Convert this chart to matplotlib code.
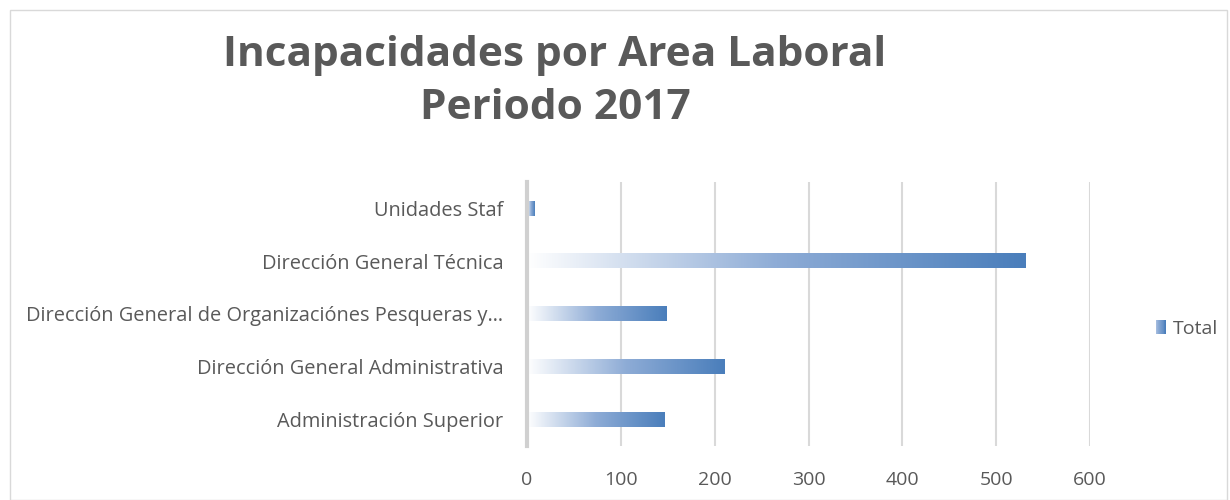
import numpy as np
import matplotlib
matplotlib.use("Agg")
import matplotlib.pyplot as plt
from matplotlib.colors import LinearSegmentedColormap
from matplotlib.patches import Rectangle, Patch
from matplotlib.legend_handler import HandlerBase

categories = ["Administración Superior",
              "Dirección General Administrativa",
              "Dirección General de Organizaciónes Pesqueras y…",
              "Dirección General Técnica",
              "Unidades Staf"]
values = [147, 211, 149, 531, 8]
series_name = "Total"
title = "Incapacidades por Area Laboral\nPeriodo 2017"
xticks = [0, 100, 200, 300, 400, 500, 600]

plt.rcParams['font.family'] = ['Open Sans', 'DejaVu Sans']
text_color = "#595959"
cmap = LinearSegmentedColormap.from_list("g", ["#ffffff", "#8eacd6", "#4a7ebb"])

fig = plt.figure(figsize=(12.3, 5.0), dpi=100)
ax = fig.add_axes([527/1230, 1-446/500, (1090-527)/1230, (446-182)/500])

bar_h = 0.27
grad = np.linspace(0, 1, 256).reshape(1, -1)
for i, v in enumerate(values):
    ax.imshow(grad, cmap=cmap, aspect='auto', extent=[0, v, i - bar_h/2, i + bar_h/2],
              interpolation='bilinear', zorder=3)
ax.barh(range(len(values)), values, height=bar_h, color='none', zorder=3)

ax.set_xlim(0, 600)
ax.set_ylim(-0.5, len(values) - 0.5)
ax.set_yticks(range(len(values)))
ax.set_yticklabels(categories)
ax.set_xticks(xticks)
for s in ['top', 'right', 'bottom']:
    ax.spines[s].set_visible(False)
ax.spines['left'].set_color('#d0d0d0')
ax.spines['left'].set_linewidth(3)
ax.spines['left'].set_zorder(4)
ax.grid(axis='x', color='#d9d9d9', linewidth=1.5, zorder=0)
ax.set_axisbelow(True)
ax.tick_params(axis='both', length=0, labelsize=14, colors=text_color)
ax.tick_params(axis='y', labelsize=14.4, pad=17)
ax.tick_params(axis='x', pad=18)
ax.xaxis.get_gridlines()[0].set_visible(False)

fig.text(555/1230, 1-82/500, title, ha='center', va='center', fontsize=30.5,
         fontweight='bold', color=text_color, linespacing=1.38)


class GradHandler(HandlerBase):
    def create_artists(self, legend, orig_handle, xdescent, ydescent, width, height, fontsize, trans):
        n = 12
        arts = []
        w = width / n
        for k in range(n):
            r = Rectangle((-xdescent + k * w, -ydescent), w * 1.05, height,
                          facecolor=cmap(0.35 + 0.65 * k / (n - 1)), edgecolor='none', transform=trans)
            arts.append(r)
        return arts


h = Patch(label=series_name)
leg = fig.legend([h], [series_name], handler_map={Patch: GradHandler()},
                 loc='center left', bbox_to_anchor=(1138/1230, 1-329/500), frameon=False,
                 fontsize=14, handlelength=0.55, handleheight=0.75, handletextpad=0.35)
for t in leg.get_texts():
    t.set_color(text_color)

fig.patches.append(Rectangle((10/1230, 0), (1227-10)/1230, 1-10/500, transform=fig.transFigure,
                             fill=False, edgecolor='#d9d9d9', linewidth=1))

fig.savefig("out.png", dpi=100)
